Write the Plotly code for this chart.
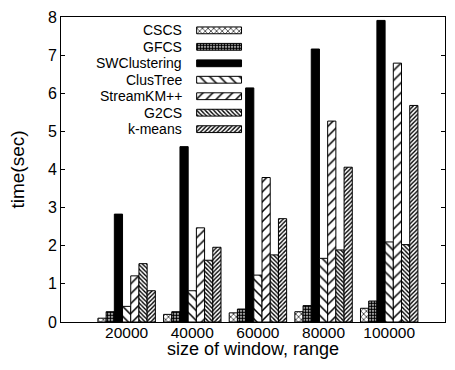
import plotly.graph_objects as go

# window sizes on the x axis
windows = ["20000", "40000", "60000", "80000", "100000"]

# running time (sec) per algorithm
cscs = [0.10, 0.20, 0.24, 0.27, 0.36]
gfcs = [0.27, 0.27, 0.34, 0.43, 0.55]
swclustering = [2.83, 4.60, 6.14, 7.16, 7.91]
clustree = [0.41, 0.82, 1.23, 1.67, 2.10]
streamkm = [1.21, 2.47, 3.79, 5.27, 6.79]
g2cs = [1.53, 1.62, 1.76, 1.89, 2.03]
kmeans = [0.82, 1.96, 2.71, 4.06, 5.68]

names = ["CSCS", "GFCS", "SWClustering", "ClusTree", "StreamKM++", "G2CS", "k-means"]
series = [cscs, gfcs, swclustering, clustree, streamkm, g2cs, kmeans]

# fill style of each series: (shape, size, solidity, solid fill?)
styles = [
    ("x", 4, 0.3, False),
    (".", 3, 0.7, False),
    ("", 0, 0, True),
    ("\\", 7, 0.22, False),
    ("/", 7, 0.22, False),
    ("\\", 3, 0.45, False),
    ("/", 3, 0.45, False),
]

FONT = "Liberation Sans, Arial, sans-serif"

W, H = 455, 370
ML, MR, MT, MB = 61, 9, 9, 48
PW, PH = W - ML - MR, H - MT - MB


def marker_for(style):
    shape, size, sol, solid = style
    if solid:
        return dict(color="black", line=dict(color="black", width=1))
    return dict(
        color="white",
        line=dict(color="black", width=1),
        pattern=dict(shape=shape, size=size, solidity=sol,
                     fgcolor="black", bgcolor="white", fillmode="replace"),
    )


fig = go.Figure()

for name, vals, st in zip(names, series, styles):
    fig.add_trace(go.Bar(
        x=windows, y=vals, name=name, marker=marker_for(st),
        showlegend=False,
    ))

# key: labels right-aligned, with a filled swatch to their right
# (overlay axes measured in pixels from the plot's top-left corner)
KEY_TOP, KEY_STEP = 22.7 - MT, 16.9
TEXT_RIGHT = 184 - ML
SW_LEFT, SW_LEN, SW_H = 197 - ML, 45, 7
for i, (name, st) in enumerate(zip(names, styles)):
    yc = KEY_TOP + i * KEY_STEP
    fig.add_trace(go.Bar(
        x=[SW_LEN], y=[yc], base=[SW_LEFT], width=[SW_H], offset=[-SW_H / 2],
        orientation="h", marker=marker_for(st), xaxis="x2", yaxis="y2",
        showlegend=False, hoverinfo="skip",
    ))
    fig.add_annotation(
        x=TEXT_RIGHT, y=yc, xref="x2", yref="y2", text=name,
        showarrow=False, xanchor="right", yanchor="middle",
        font=dict(family=FONT, size=14, color="black"),
    )

# x-axis title placed just under the tick labels
fig.add_annotation(
    x=0.5, y=(H - MB - 350) / PH, xref="paper", yref="paper",
    text="size of window, range", showarrow=False,
    xanchor="center", yanchor="middle",
    font=dict(family=FONT, size=18, color="black"),
)

fig.update_layout(
    width=W, height=H,
    margin=dict(l=ML, r=MR, t=MT, b=MB),
    plot_bgcolor="white", paper_bgcolor="white",
    barmode="group", bargap=0.125, bargroupgap=0,
    font=dict(family=FONT, size=16, color="black"),
    xaxis=dict(
        type="category", range=[-1, 4.85],
        showline=True, linecolor="black", linewidth=1, mirror=True,
        ticks="", showgrid=False, zeroline=False,
        tickfont=dict(size=15.5), ticklabelstandoff=-4,
    ),
    yaxis=dict(
        range=[0, 8], dtick=1,
        showline=True, linecolor="black", linewidth=1, mirror="allticks",
        ticks="inside", ticklen=4, tickcolor="black",
        showgrid=False, zeroline=False,
        tickfont=dict(size=16),
        title=dict(text="time(sec)", font=dict(size=19), standoff=18),
    ),
    xaxis2=dict(domain=[0, 1], range=[0, PW], overlaying="x", visible=False,
                fixedrange=True),
    yaxis2=dict(domain=[0, 1], range=[PH, 0], overlaying="y", visible=False,
                fixedrange=True, anchor="x2"),
)

fig.write_html("out.html")
